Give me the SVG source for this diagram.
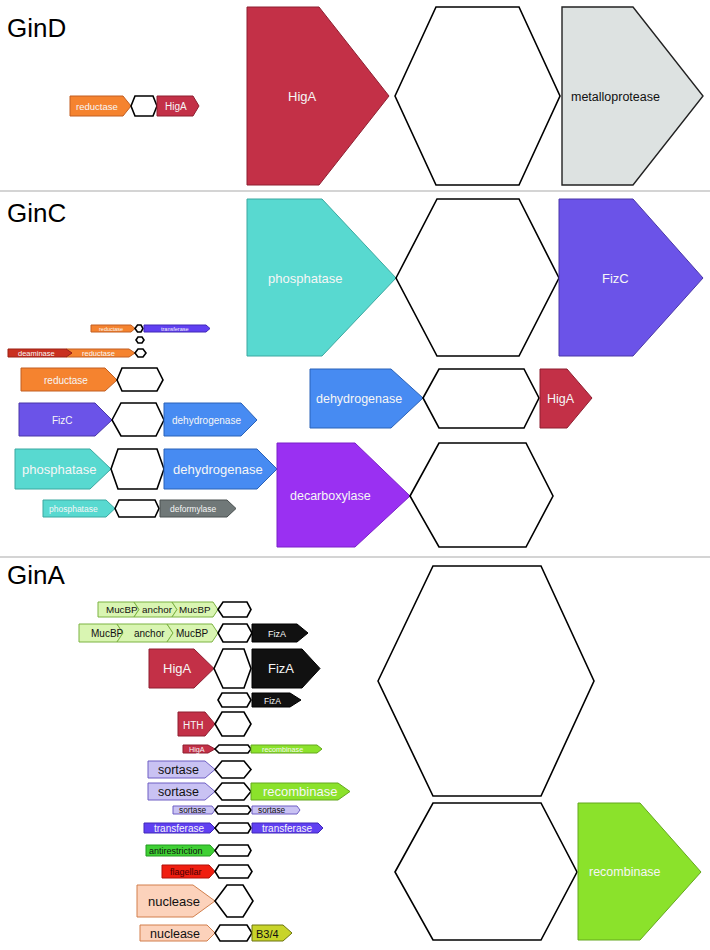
<svg xmlns="http://www.w3.org/2000/svg" width="710" height="950" viewBox="0 0 710 950">
<style>
text{font-family:"Liberation Sans",Arial,sans-serif;}
.title{font-size:26px;fill:#000;}
.hex{fill:#fff;stroke:#000;stroke-width:1.6;stroke-linejoin:miter;}
.sep{stroke:#d4d4d4;stroke-width:2;}
.w{fill:#f6f6f6;}
.k{fill:#111;}
.red{fill:#c33047;stroke:#8e1f31;stroke-width:1;}
.org{fill:#f5832f;stroke:#c25f22;stroke-width:1;}
.gry{fill:#dde2e1;stroke:#222;stroke-width:1.4;}
.teal{fill:#58d9d0;stroke:#3aa8a0;stroke-width:1;}
.pur{fill:#6b53e8;stroke:#4a37a8;stroke-width:1;}
.blu{fill:#478bf2;stroke:#2a62b8;stroke-width:1;}
.vio{fill:#9a30f2;stroke:#7a20c8;stroke-width:1;}
.dgr{fill:#707878;stroke:#4a5050;stroke-width:1;}
.dea{fill:#c9301f;stroke:#9a2015;stroke-width:1;}
.trf{fill:#6040f2;stroke:#4028b8;stroke-width:1;}
.muc{fill:#d9f5b2;stroke:#7db342;stroke-width:1;}
.blk{fill:#111;stroke:#000;stroke-width:1;}
.rec{fill:#8be22b;stroke:#64a81e;stroke-width:1;}
.sor{fill:#c9c2f3;stroke:#6e5ec4;stroke-width:1;}
.ant{fill:#3fd034;stroke:#229a1e;stroke-width:1;}
.fla{fill:#f01e10;stroke:#b01008;stroke-width:1;}
.nuc{fill:#fcd2bb;stroke:#d27f4c;stroke-width:1;}
.b34{fill:#c8d42a;stroke:#6c7410;stroke-width:1;}
</style>

<g id="separators">
<line class="sep" x1="0" y1="191" x2="710" y2="191"/>
<line class="sep" x1="0" y1="557" x2="710" y2="557"/>
</g>
<g id="connectors"></g>

<!-- GinD -->
<g id="GinD">
<text class="title" x="7" y="37">GinD</text>
<g id="gind-small">
<polygon class="org" points="70,96 123,96 131,106 123,116 70,116"/>
<text class="w" x="76" y="110" font-size="9.5">reductase</text>
<polygon class="hex" points="131,106 135,96 153,96 157,106 153,116 135,116"/>
<polygon class="red" points="157,96 193,96 199,106 193,116 157,116"/>
<text class="w" x="165" y="110" font-size="10">HigA</text>
</g>
<g id="gind-big">
<polygon class="red" points="247,7 319,7 389,96 319,185 247,185"/>
<text class="w" x="288" y="101" font-size="13">HigA</text>
<polygon class="hex" points="395,96 436,7 519,7 560,96 519,185 436,185"/>
<polygon class="gry" points="562,7 633,7 703,96 633,185 562,185"/>
<text class="k" x="571" y="101" font-size="12.5">metalloprotease</text>
</g>
</g>

<!-- GinC -->
<g id="GinC">
<text class="title" x="7" y="222">GinC</text>
<g id="ginc-big">
<polygon class="teal" points="247,199 322,199 396,278 322,356 247,356"/>
<text class="w" x="268" y="283" font-size="13">phosphatase</text>
<polygon class="hex" points="396,278 437,199 519,199 559,278 519,356 437,356"/>
<polygon class="pur" points="559,199 633,199 703,278 633,356 559,356"/>
<text class="w" x="602" y="283" font-size="13">FizC</text>
</g>
<g id="ginc-row2">
<polygon class="blu" points="310,369 391,369 423,398 391,428 310,428"/>
<text class="w" x="316" y="403" font-size="12.5">dehydrogenase</text>
<polygon class="hex" points="423,398 439,369 524,369 539,398 524,428 439,428"/>
<polygon class="red" points="540,369 567,369 592,398 567,428 540,428"/>
<text class="w" x="547" y="403" font-size="12.5">HigA</text>
</g>
<g id="ginc-a">
<polygon class="org" points="91,325 131,325 135,328.5 131,332 91,332"/>
<text class="w" x="99" y="330.7" font-size="5.5">reductase</text>
<polygon class="hex" points="135,328.5 137.5,325 141,325 143,328.5 141,332 137.5,332"/>
<polygon class="trf" points="144,325 206,325 210,328.5 206,332 144,332"/>
<text class="w" x="161" y="330.7" font-size="5.5">transferase</text>
</g>
<g id="ginc-b">
<polygon class="hex" points="136,340 138,337 142,337 144,340 142,343 138,343"/>
</g>
<g id="ginc-c">
<polygon class="org" points="66,349 129,349 135,353 129,357 66,357 72,353"/>
<polygon class="dea" points="8,349 66,349 72,353 66,357 8,357"/>
<text class="w" x="18" y="356" font-size="7.5">deaminase</text>
<text class="w" x="82" y="356" font-size="7.5">reductase</text>
<polygon class="hex" points="135,353 138,349 143,349 146,353 143,357 138,357"/>
</g>
<g id="ginc-d">
<polygon class="org" points="21,368 105,368 117,380 105,391 21,391"/>
<text class="w" x="44" y="384" font-size="10">reductase</text>
<polygon class="hex" points="117,380 122,368 157,368 163,380 157,391 122,391"/>
</g>
<g id="ginc-e">
<polygon class="pur" points="19,403 95,403 112,420 95,436 19,436"/>
<text class="w" x="52" y="424" font-size="10">FizC</text>
<polygon class="hex" points="112,420 121,403 156,403 164,420 156,436 121,436"/>
<polygon class="blu" points="164,403 241,403 257,420 241,436 164,436"/>
<text class="w" x="172" y="424" font-size="10">dehydrogenase</text>
</g>
<g id="ginc-f">
<polygon class="teal" points="15,449 90,449 111,469 90,489 15,489"/>
<text class="w" x="22" y="474" font-size="13">phosphatase</text>
<polygon class="hex" points="111,469 118,449 157,449 164,469 157,489 118,489"/>
<polygon class="blu" points="164,449 257,449 277,469 257,489 164,489"/>
<text class="w" x="173" y="474" font-size="13">dehydrogenase</text>
</g>
<g id="ginc-decarb">
<polygon class="vio" points="277,443 355,443 410,496 355,547 277,547"/>
<text class="w" x="290" y="500" font-size="12.5">decarboxylase</text>
<polygon class="hex" points="410,496 439,443 526,443 553,496 526,547 439,547"/>
</g>
<g id="ginc-g">
<polygon class="teal" points="43,500 106,500 115,508.5 106,517 43,517"/>
<text class="w" x="49" y="512" font-size="8.5">phosphatase</text>
<polygon class="hex" points="115,508.5 119,500 155,500 159,508.5 155,517 119,517"/>
<polygon class="dgr" points="160,500 227,500 236,508.5 227,517 160,517"/>
<text class="w" x="170" y="512" font-size="8.5">deformylase</text>
</g>
</g>

<!-- GinA -->
<g id="GinA">
<text class="title" x="7" y="584">GinA</text>
<g id="gina-1">
<polygon class="muc" points="98,602 134,602 139,609.5 134,617 98,617"/>
<polygon class="muc" points="134,602 172,602 177,609.5 172,617 134,617 139,609.5"/>
<polygon class="muc" points="172,602 213,602 218,609.5 213,617 172,617 177,609.5"/>
<text class="k" x="106" y="613.3" font-size="9.8">MucBP</text>
<text class="k" x="142" y="613.3" font-size="9.8">anchor</text>
<text class="k" x="179" y="613.3" font-size="9.8">MucBP</text>
<polygon class="hex" points="218,609.5 223,602 247,602 251,609.5 247,617 223,617"/>
</g>
<g id="gina-2">
<polygon class="muc" points="79,624 117,624 123,633 117,642 79,642"/>
<polygon class="muc" points="117,624 167,624 173,633 167,642 117,642 123,633"/>
<polygon class="muc" points="167,624 212,624 218,633 212,642 167,642 173,633"/>
<text class="k" x="91" y="637" font-size="10">MucBP</text>
<text class="k" x="134" y="637" font-size="10">anchor</text>
<text class="k" x="176" y="637" font-size="10">MucBP</text>
<polygon class="hex" points="218,633 223,624 247,624 252,633 247,642 223,642"/>
<polygon class="blk" points="252,624 297,624 308,633 297,642 252,642"/>
<text class="w" x="268" y="637" font-size="9">FizA</text>
</g>
<g id="gina-3">
<polygon class="red" points="149,649 194,649 214,668.5 194,688 149,688"/>
<text class="w" x="163" y="673" font-size="13">HigA</text>
<polygon class="hex" points="214,668.5 223,649 244,649 251,668.5 244,688 223,688"/>
<polygon class="blk" points="252,649 302,649 320,668.5 302,688 252,688"/>
<text class="w" x="268" y="673" font-size="13">FizA</text>
</g>
<g id="gina-4">
<polygon class="hex" points="218,700 222,693 247,693 251,700 247,707 222,707"/>
<polygon class="blk" points="252,693 290,693 301,700 290,707 252,707"/>
<text class="w" x="264" y="704" font-size="8.5">FizA</text>
</g>
<g id="gina-5">
<polygon class="red" points="178,712 205,712 215,724 205,736 178,736"/>
<text class="w" x="183" y="728.5" font-size="10">HTH</text>
<polygon class="hex" points="215,724 222,712 244,712 251,724 244,736 222,736"/>
</g>
<g id="gina-6">
<polygon class="red" points="183,745 208,745 215,749 208,753 183,753"/>
<text class="w" x="189" y="752" font-size="7.2">HigA</text>
<polygon class="hex" points="215,749 219,745 248,745 251,749 248,753 219,753"/>
<polygon class="rec" points="251,745 317,745 322,749 317,753 251,753"/>
<text class="w" x="262" y="752" font-size="7.2">recombinase</text>
</g>
<g id="gina-7">
<polygon class="sor" points="148,761 205,761 215,769.5 205,778 148,778"/>
<text class="k" x="158" y="774" font-size="12.5">sortase</text>
<polygon class="hex" points="215,769.5 222,761 244,761 251,769.5 244,778 222,778"/>
</g>
<g id="gina-8">
<polygon class="sor" points="148,783 205,783 215,791.5 205,800 148,800"/>
<text class="k" x="158" y="796" font-size="12.5">sortase</text>
<polygon class="hex" points="215,791.5 222,783 244,783 251,791.5 244,800 222,800"/>
<polygon class="rec" points="251,783 338,783 350,791.5 338,800 251,800"/>
<text class="w" x="263" y="796" font-size="13">recombinase</text>
</g>
<g id="gina-9">
<polygon class="sor" points="173,806 212,806 215,810 212,814 173,814"/>
<text class="k" x="179" y="813" font-size="8.3">sortase</text>
<polygon class="hex" points="215,810 218,806 248,806 251,810 248,814 218,814"/>
<polygon class="sor" points="252,806 297,806 300,810 297,814 252,814"/>
<text class="k" x="258" y="813" font-size="8.3">sortase</text>
</g>
<g id="gina-10">
<polygon class="trf" points="144,823 210,823 215,828 210,833 144,833"/>
<text class="w" x="154" y="832" font-size="10">transferase</text>
<polygon class="hex" points="215,828 219,823 248,823 251,828 248,833 219,833"/>
<polygon class="trf" points="252,823 318,823 323,828 318,833 252,833"/>
<text class="w" x="262" y="832" font-size="10">transferase</text>
</g>
<g id="gina-11">
<polygon class="ant" points="146,845 210,845 215,850.5 210,856 146,856"/>
<text class="k" x="149" y="854" font-size="9">antirestriction</text>
<polygon class="hex" points="215,850.5 219,845 248,845 251,850.5 248,856 219,856"/>
</g>
<g id="gina-12">
<polygon class="fla" points="162,865 209,865 215,871.5 209,878 162,878"/>
<text x="170" y="875" font-size="9" fill="#4a0000">flagellar</text>
<polygon class="hex" points="215,871.5 219,865 248,865 252,871.5 248,878 219,878"/>
</g>
<g id="gina-13">
<polygon class="nuc" points="137,885 193,885 215,901 193,917 137,917"/>
<text class="k" x="148" y="906" font-size="13">nuclease</text>
<polygon class="hex" points="215,901 227,885 243,885 253,901 243,917 227,917"/>
</g>
<g id="gina-14">
<polygon class="nuc" points="140,925 207,925 215,933 207,941 140,941"/>
<text class="k" x="150" y="937.5" font-size="12.5">nuclease</text>
<polygon class="hex" points="215,933 220,925 247,925 252,933 247,941 220,941"/>
<polygon class="b34" points="252,925 283,925 292,933 283,941 252,941"/>
<text class="k" x="256" y="937.5" font-size="11">B3/4</text>
</g>
<g id="gina-big">
<polygon class="hex" points="378,681 433,566 541,566 594,681 541,796 433,796"/>
<polygon class="hex" points="395,872 433,803 541,803 577,872 541,940 433,940"/>
<polygon class="rec" points="578,803 640,803 701,872 640,940 578,940"/>
<text class="w" x="589" y="876" font-size="12.5">recombinase</text>
</g>
</g>
</svg>
